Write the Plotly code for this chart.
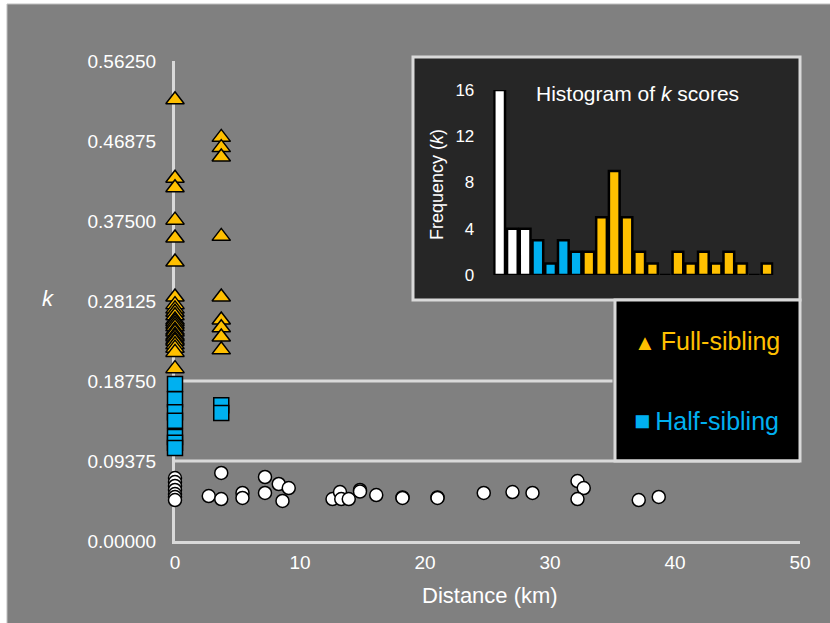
import plotly.graph_objects as go

# ---------------- data ----------------
full_dist = [0] * 25 + [3.7] * 9
full_k = [0.517, 0.425, 0.414, 0.376, 0.355, 0.327, 0.286, 0.277, 0.272, 0.268,
          0.264, 0.259, 0.257, 0.254, 0.251, 0.247, 0.245, 0.241, 0.239, 0.236,
          0.234, 0.230, 0.226, 0.221, 0.202,
          0.473, 0.461, 0.450, 0.357, 0.286, 0.259, 0.250, 0.239, 0.224]

half_dist = [0] * 7 + [3.7] * 2
half_k = [0.184, 0.166, 0.151, 0.141, 0.122, 0.115, 0.109, 0.159, 0.150]

unrel_dist = [0, 0, 0, 0, 0, 0, 0,
              2.7, 3.7, 3.7, 5.4, 5.4, 7.2, 7.2, 8.3, 9.1, 8.6,
              12.6, 13.2, 13.3, 13.9, 14.8, 14.8, 16.1, 18.2, 18.2, 21.0, 21.0,
              24.7, 27.0, 28.6, 32.2, 32.7, 32.2, 37.1, 38.7]
unrel_k = [0.0738, 0.069, 0.0645, 0.0598, 0.055, 0.0516, 0.048,
           0.0527, 0.0797, 0.0492, 0.0563, 0.0504, 0.075, 0.0563, 0.0668, 0.0621, 0.0469,
           0.0492, 0.0574, 0.0492, 0.0492, 0.0598, 0.0580, 0.0539, 0.0510, 0.0504, 0.0510, 0.0504,
           0.0563, 0.0574, 0.0563, 0.0703, 0.0621, 0.0492, 0.048, 0.0516]

y_ticks = [0.0, 0.09375, 0.1875, 0.28125, 0.375, 0.46875, 0.5625]
y_tick_labels = ["0.00000", "0.09375", "0.18750", "0.28125", "0.37500", "0.46875", "0.56250"]
x_ticks = [0, 10, 20, 30, 40, 50]

hist_bins = list(range(1, 23))
hist_counts = [16, 4, 4, 3, 1, 3, 2, 2, 5, 9, 5, 2, 1, 0, 2, 1, 2, 1, 2, 1, 0, 1]
hist_group = ["unrelated"] * 3 + ["half"] * 4 + ["full"] * 15
hist_ticks = [0, 4, 8, 12, 16]

# ---------------- style ----------------
YEL = "#FFC000"
BLU = "#00B0F0"
WHT = "#FFFFFF"
GRAY = "#808080"
LIGHT = "#D9D9D9"
FONT = "Liberation Sans, Arial, sans-serif"
group_color = {"unrelated": WHT, "half": BLU, "full": YEL}

W, H = 830, 623
L, R, T, B = 175, 30, 61, 82
PW, PH = W - L - R, H - T - B


def px(x):
    return (x - L) / PW


def py(y):
    return (H - B - y) / PH


fig = go.Figure()

fig.add_trace(go.Scatter(
    x=unrel_dist, y=unrel_k, mode="markers", cliponaxis=False,
    marker=dict(symbol="circle", size=13, color=WHT, line=dict(color="black", width=1.5)),
    showlegend=False))
fig.add_trace(go.Scatter(
    x=half_dist, y=half_k, mode="markers", cliponaxis=False,
    marker=dict(symbol="square", size=15, color=BLU, line=dict(color="black", width=1.5)),
    showlegend=False))
fig.add_trace(go.Scatter(
    x=full_dist, y=full_k, mode="markers", cliponaxis=False,
    marker=dict(symbol="triangle-up", size=16, color=YEL, line=dict(color="black", width=1.5)),
    showlegend=False))

fig.add_trace(go.Bar(
    x=hist_bins, y=hist_counts, xaxis="x2", yaxis="y2", width=0.84,
    marker=dict(color=[group_color[g] for g in hist_group], line=dict(color="black", width=2.5)),
    showlegend=False))

shapes = [
    # grey panel (white strip at left / top of page)
    dict(type="rect", xref="paper", yref="paper", x0=px(7), x1=px(834), y0=py(627), y1=py(4),
         fillcolor=GRAY, line=dict(color="#BFBFBF", width=1), layer="below"),
    # guide lines
    dict(type="line", xref="x", yref="y", x0=0, x1=50, y0=0.09375, y1=0.09375,
         line=dict(color=LIGHT, width=3), layer="below"),
    dict(type="line", xref="x", yref="y", x0=0, x1=35, y0=0.1875, y1=0.1875,
         line=dict(color=LIGHT, width=3), layer="below"),
    # inset box
    dict(type="rect", xref="paper", yref="paper", x0=px(413), x1=px(800), y0=py(300), y1=py(57),
         fillcolor="#262626", line=dict(color=LIGHT, width=3), layer="below"),
    # legend box
    dict(type="rect", xref="paper", yref="paper", x0=px(615), x1=px(800), y0=py(461), y1=py(300),
         fillcolor="#000000", line=dict(color=LIGHT, width=3), layer="below"),
]


def ann(text, x, y, size, color="white", xanchor="center", **kw):
    return dict(text=text, xref="paper", yref="paper", x=px(x), y=py(y),
                xanchor=xanchor, yanchor="middle", showarrow=False,
                font=dict(size=size, color=color, family=FONT), **kw)


annotations = [
    ann("Distance (km)", 490, 595, 22),
    ann("<i>k</i>", 48, 298, 22),
    ann("Histogram of <i>k</i> scores", 637, 94, 21),
    ann("Frequency (<i>k</i>)", 437, 185, 18, textangle=-90),
    ann("<span style='font-size:22px'>▲</span>\u2009Full-sibling", 632, 341, 25, color=YEL,
        xanchor="left"),
    ann("<span style='font-size:27px'>■</span>\u2009Half-sibling", 632, 421, 25, color=BLU,
        xanchor="left"),
]

fig.update_layout(
    width=W, height=H,
    margin=dict(l=L, r=R, t=T, b=B, pad=0),
    paper_bgcolor="white", plot_bgcolor="rgba(0,0,0,0)",
    font=dict(family=FONT, color="white"),
    xaxis=dict(range=[0, 50], tickvals=x_ticks, showgrid=False, zeroline=False,
               showline=True, linecolor=LIGHT, linewidth=3, layer="below traces",
               ticks="", ticklabelstandoff=2, tickfont=dict(size=19, color="white"),
               fixedrange=True),
    yaxis=dict(range=[0, 0.5625], tickvals=y_ticks, ticktext=y_tick_labels,
               showgrid=False, zeroline=False, showline=True, linecolor=LIGHT, linewidth=3,
               layer="below traces", ticks="", ticklabelstandoff=12,
               tickfont=dict(size=19, color="white")),
    xaxis2=dict(domain=[px(493.3), px(773.4)], range=[0.5, 22.5], anchor="y2",
                showgrid=False, zeroline=False, showline=False, showticklabels=False),
    yaxis2=dict(domain=[py(275), py(90)], range=[0, 16], anchor="x2", tickvals=hist_ticks,
                showgrid=False, zeroline=False, showline=False, ticks="",
                ticklabelstandoff=18, tickfont=dict(size=17, color="white")),
    shapes=shapes,
    annotations=annotations,
    bargap=0.16,
)

fig.write_html("out.html", config={"displayModeBar": False},
               post_script="document.body.style.margin='0';")
